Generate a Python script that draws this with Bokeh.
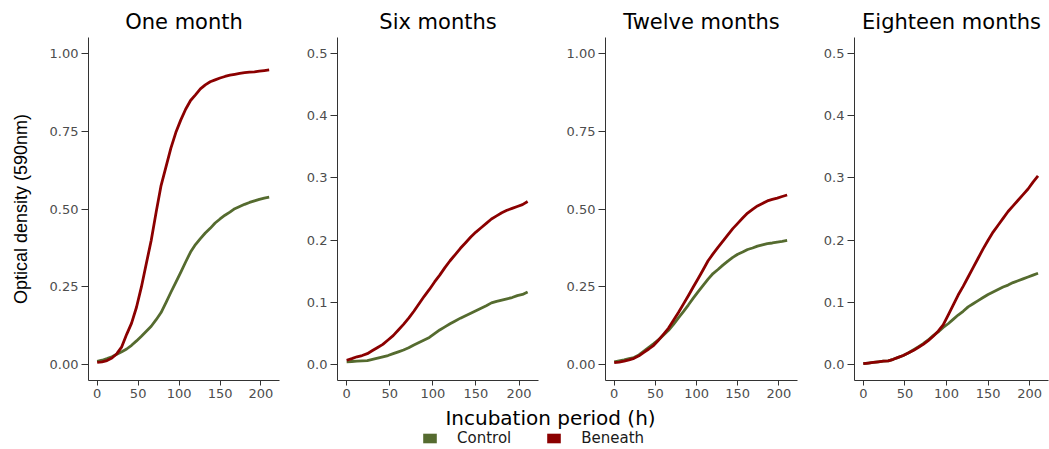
from bokeh.plotting import figure
from bokeh.models import Range1d, FixedTicker, NumeralTickFormatter, Legend, LegendItem
from bokeh.layouts import row, column
from bokeh.embed import file_html
from bokeh.resources import INLINE

# Sampling times of the growth curves (h), every 6 h
hours = [0, 6, 12, 18, 24, 30, 36, 42, 48, 54, 60, 66, 72, 78, 84, 90, 96, 102,
         108, 114, 120, 126, 132, 138, 144, 150, 156, 162, 168, 174, 180, 186, 192,
         198, 204, 210]

# Optical density (590nm) per storage period
one_month_control = [0.011, 0.015, 0.020, 0.026, 0.034, 0.042, 0.051, 0.063, 0.077, 0.092,
                     0.108, 0.124, 0.145, 0.168, 0.200, 0.233, 0.265, 0.297, 0.330, 0.362,
                     0.386, 0.405, 0.423, 0.438, 0.455, 0.468, 0.480, 0.490, 0.501, 0.508,
                     0.515, 0.521, 0.526, 0.531, 0.535, 0.538]
one_month_beneath = [0.008, 0.010, 0.014, 0.022, 0.036, 0.058, 0.098, 0.134, 0.185, 0.250,
                     0.325, 0.400, 0.490, 0.575, 0.635, 0.695, 0.745, 0.785, 0.820, 0.848,
                     0.866, 0.885, 0.898, 0.908, 0.914, 0.920, 0.925, 0.929, 0.932, 0.935,
                     0.937, 0.939, 0.940, 0.942, 0.944, 0.946]

six_months_control = [0.005, 0.0055, 0.006, 0.0065, 0.007, 0.009, 0.011, 0.013, 0.015, 0.018,
                      0.021, 0.024, 0.0275, 0.032, 0.036, 0.040, 0.044, 0.050, 0.056, 0.061,
                      0.066, 0.0705, 0.075, 0.079, 0.083, 0.087, 0.091, 0.095, 0.0995, 0.102,
                      0.104, 0.106, 0.108, 0.111, 0.113, 0.117]
six_months_beneath = [0.0075, 0.010, 0.013, 0.015, 0.018, 0.023, 0.028, 0.033, 0.040, 0.047,
                      0.056, 0.065, 0.075, 0.086, 0.098, 0.110, 0.121, 0.133, 0.144, 0.156,
                      0.167, 0.177, 0.187, 0.196, 0.205, 0.213, 0.220, 0.227, 0.234, 0.239,
                      0.244, 0.248, 0.251, 0.254, 0.257, 0.262]

twelve_months_control = [0.010, 0.013, 0.016, 0.020, 0.0235, 0.032, 0.044, 0.056, 0.068, 0.081,
                         0.096, 0.111, 0.130, 0.151, 0.171, 0.192, 0.214, 0.235, 0.255, 0.275,
                         0.293, 0.306, 0.320, 0.333, 0.345, 0.355, 0.362, 0.370, 0.375, 0.381,
                         0.385, 0.389, 0.391, 0.394, 0.396, 0.399]
twelve_months_beneath = [0.007, 0.009, 0.012, 0.016, 0.021, 0.029, 0.040, 0.051, 0.063, 0.080,
                         0.099, 0.118, 0.143, 0.168, 0.195, 0.222, 0.250, 0.277, 0.305, 0.334,
                         0.356, 0.377, 0.397, 0.417, 0.437, 0.454, 0.471, 0.487, 0.499, 0.510,
                         0.518, 0.526, 0.531, 0.535, 0.540, 0.545]

eighteen_months_control = [0.002, 0.003, 0.004, 0.005, 0.006, 0.0065, 0.009, 0.012, 0.015, 0.019,
                           0.024, 0.029, 0.034, 0.040, 0.047, 0.053, 0.060, 0.066, 0.073, 0.080,
                           0.086, 0.093, 0.098, 0.103, 0.108, 0.113, 0.117, 0.121, 0.125, 0.128,
                           0.132, 0.135, 0.138, 0.141, 0.144, 0.147]
eighteen_months_beneath = [0.002, 0.003, 0.004, 0.005, 0.006, 0.0065, 0.009, 0.012, 0.015, 0.019,
                           0.023, 0.028, 0.033, 0.039, 0.046, 0.054, 0.064, 0.080, 0.096, 0.112,
                           0.126, 0.141, 0.156, 0.171, 0.186, 0.200, 0.213, 0.224, 0.235, 0.246,
                           0.255, 0.264, 0.273, 0.282, 0.293, 0.303]

panel_titles = ["One month", "Six months", "Twelve months", "Eighteen months"]
series_names = ["Control", "Beneath"]
series_colors = ["#556B2F", "#8B0000"]

x_ticks = [0, 50, 100, 150, 200]
y_ticks_full = [0, 0.25, 0.5, 0.75, 1.0]
y_ticks_half = [0, 0.1, 0.2, 0.3, 0.4, 0.5]

y_title = "Optical density (590nm)"
x_title = "Incubation period (h)"

FRAME_H = 343
AXIS_COLOR = "#333333"
TICK_TEXT = "#4D4D4D"


def make_panel(title, control, beneath, y_max, y_ticks, y_fmt,
               left, frame_w, right, with_y_title=False):
    p = figure(frame_width=frame_w, frame_height=FRAME_H,
               min_border_left=left, min_border_right=right,
               min_border_top=37, min_border_bottom=22,
               x_range=Range1d(-10.6, 222.6),
               y_range=Range1d(-0.05 * y_max, 1.05 * y_max),
               output_backend="svg", toolbar_location=None,
               outline_line_color=None,
               background_fill_color="white", border_fill_color="white")
    p.grid.visible = False

    p.title.text = title
    p.title.align = "center"
    p.title.text_font = "DejaVu Sans"
    p.title.text_font_size = "21px"
    p.title.text_font_style = "normal"
    p.title.text_color = "black"
    p.title.standoff = 7

    for ax in (p.xaxis[0], p.yaxis[0]):
        ax.axis_line_color = AXIS_COLOR
        ax.axis_line_width = 1
        ax.major_tick_line_color = AXIS_COLOR
        ax.major_tick_in = 0
        ax.minor_tick_in = 0
        ax.minor_tick_out = 0
        ax.major_label_text_font = "DejaVu Sans"
        ax.major_label_text_font_size = "13px"
        ax.major_label_text_color = TICK_TEXT

    p.xaxis.ticker = FixedTicker(ticks=x_ticks)
    p.xaxis.major_tick_out = 5
    p.xaxis.major_label_standoff = 3

    p.yaxis.ticker = FixedTicker(ticks=y_ticks)
    p.yaxis.formatter = NumeralTickFormatter(format=y_fmt)
    p.yaxis.major_tick_out = 7
    p.yaxis.major_label_standoff = 3

    if with_y_title:
        p.yaxis.axis_label = y_title
        p.yaxis.axis_label_text_font = "Liberation Sans"
        p.yaxis.axis_label_text_font_size = "18px"
        p.yaxis.axis_label_text_font_style = "normal"
        p.yaxis.axis_label_text_color = "black"
        p.yaxis.axis_label_standoff = 16

    for vals, color in zip((control, beneath), series_colors):
        p.line(hours, vals, line_color=color, line_width=2.8, line_join="round")
    return p


p1 = make_panel(panel_titles[0], one_month_control, one_month_beneath, 1.0,
                y_ticks_full, "0.00", 88, 191, 21, with_y_title=True)
p2 = make_panel(panel_titles[1], six_months_control, six_months_beneath, 0.5,
                y_ticks_half, "0.0", 37, 201, 22)
p3 = make_panel(panel_titles[2], twelve_months_control, twelve_months_beneath, 1.0,
                y_ticks_full, "0.00", 45, 192, 23)
p4 = make_panel(panel_titles[3], eighteen_months_control, eighteen_months_beneath, 0.5,
                y_ticks_half, "0.0", 34, 194, 1)

# Shared x-axis title and legend strip
bottom = figure(frame_width=998, height=47, min_border_left=51, min_border_right=0,
                min_border_top=0, min_border_bottom=0,
                x_range=Range1d(0, 1), y_range=Range1d(0, 1),
                output_backend="svg", toolbar_location=None,
                outline_line_color=None,
                background_fill_color="white", border_fill_color="white")
bottom.axis.visible = False
bottom.grid.visible = False
bottom.title.text = x_title
bottom.title.align = "center"
bottom.title.text_font = "DejaVu Sans"
bottom.title.text_font_size = "20px"
bottom.title.text_font_style = "normal"
bottom.title.text_color = "black"
bottom.title.standoff = 2

# Swatch renderers for the legend (not drawn in the strip itself)
nan = float("nan")
items = []
for name, color in zip(series_names, series_colors):
    r = bottom.quad(left=[nan], right=[nan], top=[nan], bottom=[nan],
                    fill_color=color, line_color=None)
    items.append(LegendItem(label=name, renderers=[r]))

legend = Legend(items=items, orientation="horizontal", location=(370, 2),
                glyph_width=17, glyph_height=12, label_standoff=19, spacing=34,
                padding=0, margin=0, border_line_alpha=0, background_fill_alpha=0,
                label_text_font="DejaVu Sans", label_text_font_size="15px",
                label_text_color="#1a1a1a", label_height=12)
bottom.add_layout(legend, "center")

layout = column(row(p1, p2, p3, p4), bottom)

with open("out.html", "w") as f:
    f.write(file_html(layout, INLINE))
